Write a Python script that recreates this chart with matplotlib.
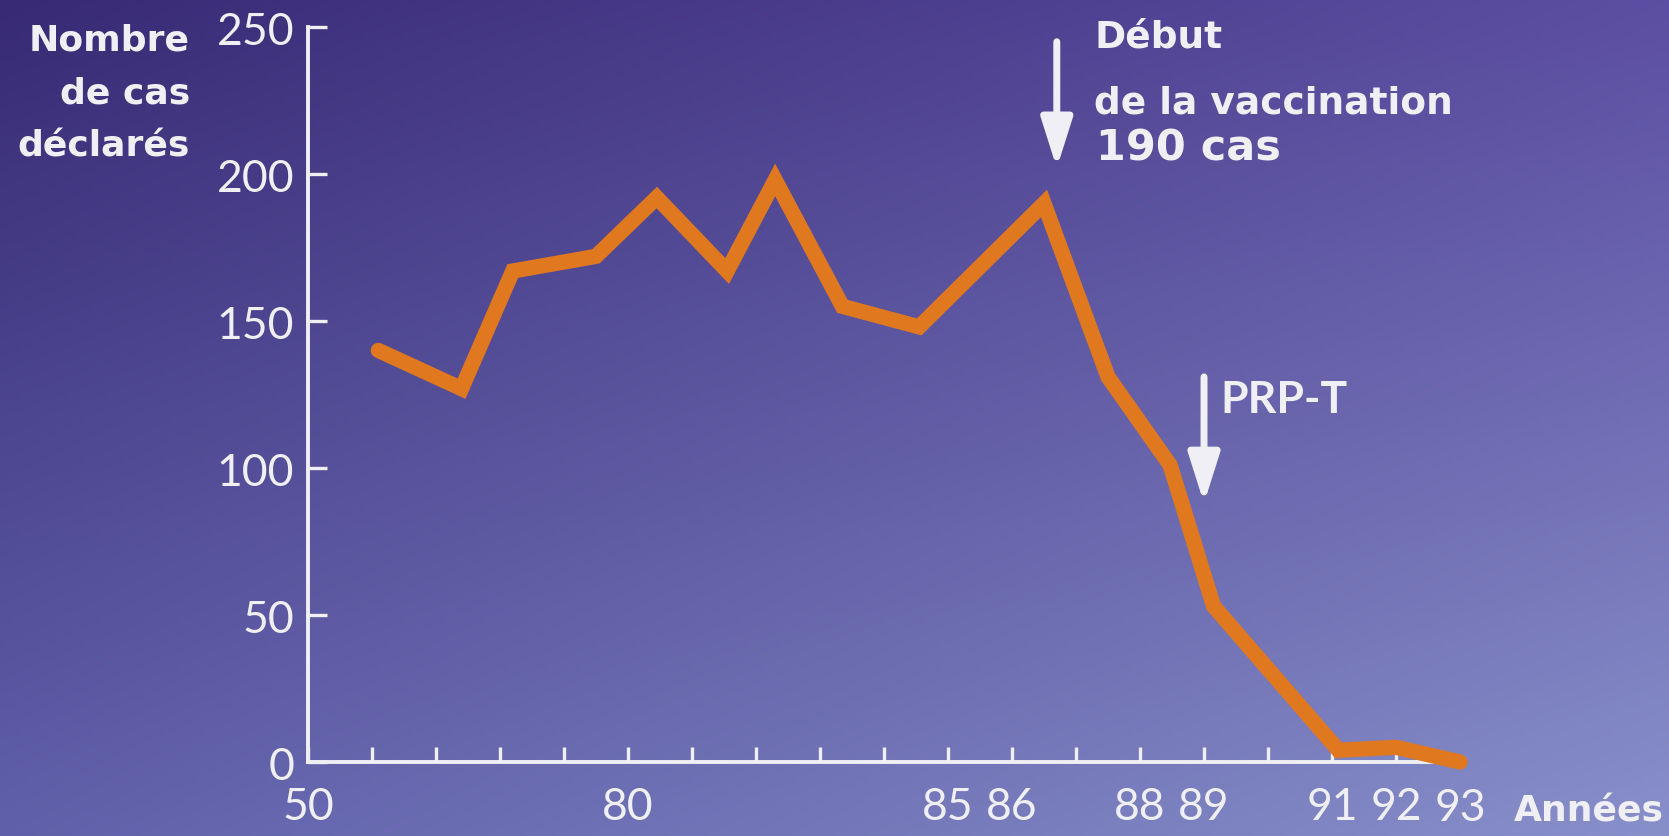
import numpy as np
import matplotlib.pyplot as plt

# positions des sommets du tracé (années) et nombre de cas déclarés
annees = [76.1, 77.4, 78.2, 79.5, 80.45, 81.55, 82.3, 83.35, 84.55,
          86.5, 87.5, 88.47, 89.15, 91.1, 92.0, 93.0]
cas = [140, 127, 167, 172, 192, 167, 198, 155, 148,
       190, 131, 101, 53, 4, 5, 0]

y_ticks = [0, 50, 100, 150, 200, 250]
x_ticks = list(range(75, 93))
x_labels = {75: '50', 80: '80', 85: '85', 86: '86', 88: '88', 89: '89',
            91: '91', 92: '92', 93: '93'}

plt.rcParams['font.family'] = ['Lato', 'DejaVu Sans']
gras = ['DejaVu Sans']
blanc = '#f1eff6'
orange = '#e0781f'

fig = plt.figure(figsize=(16.69, 8.37), dpi=100)

# fond dégradé violet -> lavande
bg = fig.add_axes([0, 0, 1, 1], zorder=0)
h, w = 200, 400
u = np.linspace(0, 1, w)[None, :, None]
v = np.linspace(0, 1, h)[:, None, None]
tl = np.array([56, 42, 116]) / 255
tr = np.array([92, 78, 162]) / 255
bl = np.array([96, 96, 170]) / 255
br = np.array([136, 144, 202]) / 255
img = (1 - u) * (1 - v) * tl + u * (1 - v) * tr + (1 - u) * v * bl + u * v * br
bg.imshow(img, aspect='auto', extent=[0, 1, 0, 1])
bg.axis('off')

ax = fig.add_axes([0.1845, 0.0884, 0.6903, 0.8781], zorder=1)
ax.patch.set_alpha(0)
ax.plot(annees, cas, color=orange, lw=11, solid_joinstyle='miter',
        solid_capstyle='round', clip_on=False, zorder=3)

ax.set_xlim(75, 93)
ax.set_ylim(0, 250)
for s in ['top', 'right']:
    ax.spines[s].set_visible(False)
for s in ['left', 'bottom']:
    ax.spines[s].set_color(blanc)
    ax.spines[s].set_linewidth(2.8)
    ax.spines[s].set_capstyle('projecting')

ax.set_yticks(y_ticks)
ax.set_xticks(x_ticks)
ax.set_xticklabels([x_labels.get(x, '') for x in x_ticks])
ax.tick_params(axis='y', direction='in', length=14, width=2.4, color=blanc,
               labelcolor=blanc, labelsize=32, pad=10)
ax.tick_params(axis='x', direction='in', length=11, width=2.4, color=blanc,
               labelcolor=blanc, labelsize=32, pad=17)

# "93" sous l'extrémité de l'axe, sans graduation
ax.text(93, -0.0345, x_labels[93], transform=ax.get_xaxis_transform(),
        ha='center', va='top', color=blanc, fontsize=32)
fig.text(0.907, 0.018, 'Années', ha='left', va='baseline', color=blanc,
         fontsize=26, fontweight='bold', family=gras)

fig.text(0.1138, 0.972, 'Nombre\nde cas\ndéclarés', ha='right', va='top',
         color=blanc, fontsize=26, fontweight='bold', family=gras,
         linespacing=1.7)

# début de la vaccination
pic = cas[annees.index(86.5)]
fleche = dict(arrowstyle='-|>,head_length=3.0,head_width=0.95',
              mutation_scale=10, color=blanc, lw=5, shrinkA=0, shrinkB=0)
ax.annotate('', xy=(86.7, 202), xytext=(86.7, 245), arrowprops=fleche,
            annotation_clip=False)
fig.text(0.6555, 0.9427, 'Début', ha='left', va='baseline', color=blanc,
         fontsize=27, fontweight='bold', family=gras)
fig.text(0.6555, 0.8640, 'de la vaccination', ha='left', va='baseline',
         color=blanc, fontsize=27, fontweight='bold', family=gras)
fig.text(0.6565, 0.8080, f'{pic} cas', ha='left', va='baseline',
         color=blanc, fontsize=31, fontweight='bold', family=gras)

# introduction du PRP-T
ax.annotate('', xy=(89.0, 88), xytext=(89.0, 131), arrowprops=fleche)
fig.text(0.731, 0.5066, 'PRP-T', ha='left', va='baseline', color=blanc,
         fontsize=32, fontweight='bold')

fig.savefig('out.png', dpi=100)
